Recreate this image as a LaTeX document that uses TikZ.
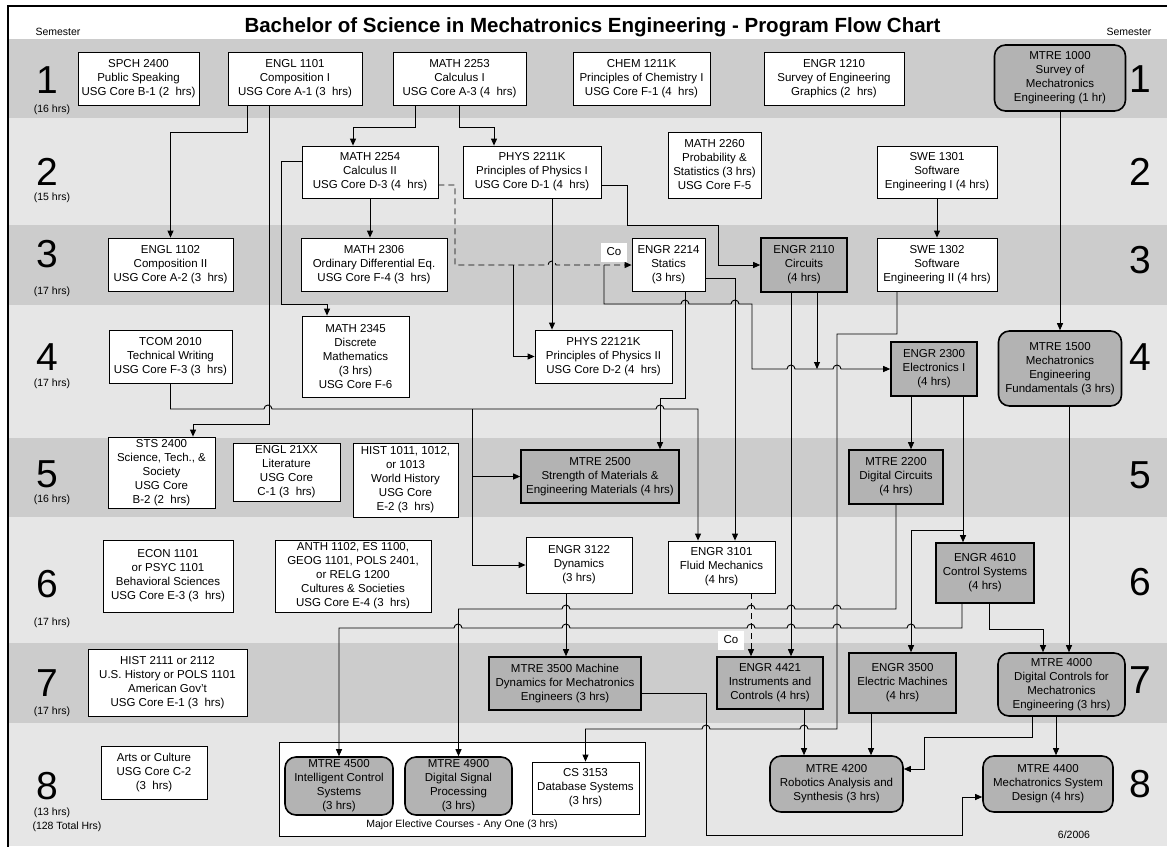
\documentclass[tikz,border=0pt]{standalone}
\usepackage{fontspec}
\setmainfont{Liberation Sans}
\usepackage{tikz}
\usetikzlibrary{arrows.meta}
\definecolor{banddark}{HTML}{CCCCCC}
\definecolor{bandlight}{HTML}{E6E6E6}
\definecolor{boxgray}{HTML}{B3B3B3}

\begin{document}
\begin{tikzpicture}[x=1pt,y=-1pt,
    course/.style={draw,fill=white,line width=0.8pt,align=center,inner sep=1pt,font=\fontsize{11.5}{14}\selectfont},
    core/.style={course,fill=boxgray,line width=1.6pt},
    major/.style={core,rounded corners=11pt},
    link/.style={-{Triangle[length=7pt,width=6pt]},line width=0.9pt,black},
    colink/.style={link,dash pattern=on 6pt off 4pt},
    colabel/.style={fill=white,minimum width=26pt,minimum height=19pt,inner sep=0pt,font=\fontsize{11.5}{14}\selectfont},
    semnum/.style={anchor=base,font=\fontsize{39}{39}\selectfont},
    semhrs/.style={font=\fontsize{10.5}{12}\selectfont}]

    \useasboundingbox (0,0) rectangle (1167,846);

    \fill[banddark]  (8,39)  rectangle (1167,118);
    \fill[bandlight] (8,118) rectangle (1167,225);
    \fill[banddark]  (8,225) rectangle (1167,305);
    \fill[bandlight] (8,305) rectangle (1167,438);
    \fill[banddark]  (8,438) rectangle (1167,517);
    \fill[bandlight] (8,517) rectangle (1167,643);
    \fill[banddark]  (8,643) rectangle (1167,723);
    \fill[bandlight] (8,723) rectangle (1167,846);
    \draw[line width=1.5pt] (8,850) -- (8,6) -- (1170,6);

    \node[anchor=base,font=\bfseries\fontsize{20.5}{24}\selectfont] (title) at (592.5,32) {Bachelor of Science in Mechatronics Engineering - Program Flow Chart};
    \node[semhrs] (seml) at (58,32)   {Semester};
    \node[semhrs] (semr) at (1129,32) {Semester};

    % semester numbers
    \node[semnum] (l1) at (47,93)  {1};   \node[semhrs] (h1) at (52,110) {(16 hrs)};
    \node[semnum] (l2) at (47,185) {2};   \node[semhrs] (h2) at (52,198) {(15 hrs)};
    \node[semnum] (l3) at (47,267) {3};   \node[semhrs] (h3) at (52,292) {(17 hrs)};
    \node[semnum] (l4) at (47,370) {4};   \node[semhrs] (h4) at (52,384) {(17 hrs)};
    \node[semnum] (l5) at (47,487) {5};   \node[semhrs] (h5) at (52,500) {(16 hrs)};
    \node[semnum] (l6) at (47,597) {6};   \node[semhrs] (h6) at (52,623) {(17 hrs)};
    \node[semnum] (l7) at (47,696) {7};   \node[semhrs] (h7) at (52,712) {(17 hrs)};
    \node[semnum] (l8) at (47,799) {8};   \node[semhrs] (h8) at (52,813) {(13 hrs)};
    \node[semhrs] (total) at (67,827) {(128 Total Hrs)};
    \node[semnum] (r1) at (1140,92)  {1};
    \node[semnum] (r2) at (1140,185) {2};
    \node[semnum] (r3) at (1140,273) {3};
    \node[semnum] (r4) at (1140,370) {4};
    \node[semnum] (r5) at (1140,488) {5};
    \node[semnum] (r6) at (1140,595) {6};
    \node[semnum] (r7) at (1140,693) {7};
    \node[semnum] (r8) at (1140,797) {8};
    \node[semhrs] (date) at (1074,835) {6/2006};

    % semester 1
    \node[course,minimum width=121pt,minimum height=53pt] (spch) at (138.5,78.5) {SPCH 2400\\Public Speaking\\USG Core B-1 (2~ hrs)};
    \node[course,minimum width=134pt,minimum height=53pt] (engla) at (295,78.5) {ENGL 1101\\Composition I\\USG Core A-1 (3~ hrs)};
    \node[course,minimum width=133pt,minimum height=53pt] (matha) at (459.5,78.5) {MATH 2253\\Calculus I\\USG Core A-3 (4~ hrs)};
    \node[course,minimum width=137pt,minimum height=53pt] (chem) at (641.5,78.5) {CHEM 1211K\\Principles of Chemistry I\\USG Core F-1 (4~ hrs)};
    \node[course,minimum width=140pt,minimum height=53pt] (graph) at (834,78.5) {ENGR 1210\\Survey of Engineering\\Graphics (2~ hrs)};
    \node[major,minimum width=131pt,minimum height=66pt] (mtrea) at (1060,78) {MTRE 1000\\Survey of\\Mechatronics\\Engineering (1 hr)};

    % semester 2
    \node[course,minimum width=136pt,minimum height=52pt] (mathb) at (370,172) {MATH 2254\\Calculus II\\USG Core D-3 (4~ hrs)};
    \node[course,minimum width=138pt,minimum height=52pt] (physa) at (532,172) {PHYS 2211K\\Principles of Physics I\\USG Core D-1 (4~ hrs)};
    \node[course,minimum width=93pt,minimum height=66pt] (prob) at (714.5,165) {MATH 2260\\Probability \&\\Statistics (3 hrs)\\USG Core F-5};
    \node[course,minimum width=120pt,minimum height=52pt] (swea) at (937,172) {SWE 1301\\Software\\Engineering I (4 hrs)};

    % semester 3
    \node[course,minimum width=125pt,minimum height=53pt] (englb) at (170.5,264.5) {ENGL 1102\\Composition II\\USG Core A-2 (3~ hrs)};
    \node[course,minimum width=146pt,minimum height=53pt] (mathc) at (374,264.5) {MATH 2306\\Ordinary Differential Eq.\\USG Core F-4 (3~ hrs)};
    \node[course,minimum width=73pt,minimum height=53pt] (statics) at (668.5,265) {ENGR 2214\\Statics\\(3 hrs)};
    \node[core,minimum width=86pt,minimum height=54pt] (circuits) at (804,265) {ENGR 2110\\Circuits\\(4 hrs)};
    \node[course,minimum width=120pt,minimum height=53pt] (sweb) at (937,264.5) {SWE 1302\\Software\\Engineering II (4 hrs)};

    % semester 4
    \node[course,minimum width=123pt,minimum height=53pt] (tcom) at (170.5,356.5) {TCOM 2010\\Technical Writing\\USG Core F-3 (3~ hrs)};
    \node[course,minimum width=107pt,minimum height=81pt] (mathd) at (355.5,356.5) {MATH 2345\\Discrete\\Mathematics\\(3 hrs)\\USG Core F-6};
    \node[course,minimum width=137pt,minimum height=53pt] (physb) at (603.5,356.5) {PHYS 22121K\\Principles of Physics II\\USG Core D-2 (4~ hrs)};
    \node[core,minimum width=86pt,minimum height=54pt] (elec) at (934,369) {ENGR 2300\\Electronics I\\(4 hrs)};
    \node[major,minimum width=123pt,minimum height=75pt] (mtreb) at (1060,368.5) {MTRE 1500\\Mechatronics\\Engineering\\Fundamentals (3 hrs)};

    % semester 5
    \node[course,minimum width=107pt,minimum height=71pt] (sts) at (161.5,472.5) {STS 2400\\Science, Tech., \&\\Society\\USG Core\\B-2 (2~ hrs)};
    \node[course,minimum width=107pt,minimum height=58pt] (englc) at (286.5,472) {ENGL 21XX\\Literature\\USG Core\\C-1 (3~ hrs)};
    \node[course,minimum width=105pt,minimum height=74pt] (histw) at (405.5,480) {HIST 1011, 1012,\\or 1013\\World History\\USG Core\\E-2 (3~ hrs)};
    \node[core,minimum width=158pt,minimum height=53pt] (strength) at (600,476.5) {MTRE 2500\\Strength of Materials \&\\Engineering Materials (4 hrs)};
    \node[core,minimum width=94pt,minimum height=54pt] (digital) at (896,477) {MTRE 2200\\Digital Circuits\\(4 hrs)};

    % semester 6
    \node[course,minimum width=130pt,minimum height=72pt] (econ) at (168,576) {ECON 1101\\or PSYC 1101\\Behavioral Sciences\\USG Core E-3 (3~ hrs)};
    \node[course,minimum width=156pt,minimum height=72pt] (anth) at (353,576) {ANTH 1102, ES 1100,\\GEOG 1101, POLS 2401,\\or RELG 1200\\Cultures \& Societies\\USG Core E-4 (3~ hrs)};
    \node[course,minimum width=106pt,minimum height=56pt] (dynamics) at (579,565) {ENGR 3122\\Dynamics\\(3 hrs)};
    \node[course,minimum width=107pt,minimum height=52pt] (fluid) at (721.5,567) {ENGR 3101\\Fluid Mechanics\\(4 hrs)};
    \node[core,minimum width=98pt,minimum height=60pt] (control) at (985,573) {ENGR 4610\\Control Systems\\(4 hrs)};

    % semester 7
    \node[course,minimum width=159pt,minimum height=67pt] (histu) at (167.5,682.5) {HIST 2111 or 2112\\U.S. History or POLS 1101\\American Gov't\\USG Core E-1 (3~ hrs)};
    \node[core,minimum width=152pt,minimum height=53pt] (machine) at (565,683.5) {MTRE 3500 Machine\\Dynamics for Mechatronics\\Engineers (3 hrs)};
    \node[core,minimum width=106pt,minimum height=52pt] (instr) at (770,683) {ENGR 4421\\Instruments and\\Controls (4 hrs)};
    \node[core,minimum width=107pt,minimum height=60pt] (emach) at (902.5,683) {ENGR 3500\\Electric Machines\\(4 hrs)};
    \node[major,minimum width=127pt,minimum height=63pt] (dctrl) at (1061.5,684.5) {MTRE 4000\\Digital Controls for\\Mechatronics\\Engineering (3 hrs)};

    % semester 8
    \node[course,minimum width=106pt,minimum height=53pt] (arts) at (154,772.5) {Arts or Culture\\USG Core C-2\\(3~ hrs)};
    \node[draw,fill=white,line width=0.8pt,minimum width=366pt,minimum height=94pt] (elect) at (462,789) {};
    \node[semhrs] (electlbl) at (462,825) {Major Elective Courses - Any One (3 hrs)};
    \node[major,minimum width=108pt,minimum height=58pt] (intel) at (339,786) {MTRE 4500\\Intelligent Control\\Systems\\(3 hrs)};
    \node[major,minimum width=107pt,minimum height=58pt] (dsp) at (458.5,786) {MTRE 4900\\Digital Signal\\Processing\\(3 hrs)};
    \node[course,minimum width=107pt,minimum height=52pt] (dbase) at (585.5,788) {CS 3153\\Database Systems\\(3 hrs)};
    \node[major,minimum width=133pt,minimum height=56pt] (robot) at (836.5,784) {MTRE 4200\\Robotics Analysis and\\Synthesis (3 hrs)};
    \node[major,minimum width=130pt,minimum height=56pt] (design) at (1048,784) {MTRE 4400\\Mechatronics System\\Design (4 hrs)};

    \coordinate (jmath)  at (513,265);
    \coordinate (jmathb) at (604,265);
    \coordinate (jtcom)  at (472,409);
    \coordinate (jelec)  at (817,369);
    \coordinate (jctrl)  at (963,530);

    % prerequisites
    \draw[link] ([xshift=-48pt]engla.south) -- ++(0,27) -| (englb.north);
    \draw[link] ([xshift=-26pt]engla.south) -- (269,424) -| ([xshift=31.5pt]sts.north);
    \draw[link] ([xshift=-44.5pt]matha.south) -- ++(0,22) -| ([xshift=-17pt]mathb.north);
    \draw[link] (matha.south) -- ++(0,22) -| ([xshift=-38pt]physa.north);
    \draw[link] (mathb.south) -- (mathb.south |- mathc.north);
    \draw[link] ([yshift=11pt]mathb.west) -| (281,304) -| ([xshift=-28.5pt]mathd.north);
    \draw[colink] ([yshift=-13pt]mathb.east) -| (455,265) -- (548,265) arc[start angle=180,end angle=0,radius=4pt] -- (statics.west);
    \draw[link] (jmath) |- (physb.west);
    \draw[link] (jmathb) -- (604,304) -- (681,304) arc[start angle=180,end angle=0,radius=4pt]
        -- (731,304) arc[start angle=180,end angle=0,radius=4pt] -- (752,304) -- (752,369)
        -- (787,369) arc[start angle=180,end angle=0,radius=4pt]
        -- (833,369) arc[start angle=180,end angle=0,radius=4pt] -- (elec.west);
    \draw[link] ([xshift=20pt]physa.south) -- ([xshift=20pt]physa.south |- physb.north);
    \draw[link] ([yshift=-13pt]physa.east) -| (627,225) -| (718,265) -- (circuits.west);
    \draw[link] ([yshift=-13pt]statics.east) -| ([xshift=13.5pt]fluid.north);
    \draw[link] ([xshift=16.5pt]statics.south) |- (660,398) -- ([xshift=60pt]strength.north);
    \draw[link] (tcom.south) |- (264,409) arc[start angle=180,end angle=0,radius=4pt]
        -- (656,409) arc[start angle=180,end angle=0,radius=4pt] -| ([xshift=-23.5pt]fluid.north);
    \draw[link] (jtcom) |- (strength.west);
    \draw[link] (jtcom) |- (dynamics.west);
    \draw[link] ([xshift=13pt]circuits.south) -- (jelec);
    \draw[link] ([xshift=-13pt]circuits.south) -- ([xshift=-13pt]circuits.south |- instr.north);
    \draw[link] (swea) -- (sweb);
    \draw[link] ([xshift=-40pt]sweb.south) |- (837,334) -- (837,729)
        -- (808,729) arc[start angle=0,end angle=180,radius=4pt]
        -- (710,729) arc[start angle=0,end angle=180,radius=4pt] -| (dbase.north);
    \draw[link] (mtrea) -- (mtreb);
    \draw[link] ([xshift=9pt]mtreb.south) -- ([xshift=9pt]mtreb.south |- dctrl.north);
    \draw[link] ([xshift=-23pt]elec.south) -- ([xshift=-23pt]elec.south |- digital.north);
    \draw[link] ([xshift=29pt]elec.south) -- ([xshift=29pt]elec.south |- control.north);
    \draw[link] (jctrl) -| ([xshift=8.5pt]emach.north);
    \draw[link] (digital.south) |- (841,609) arc[start angle=0,end angle=180,radius=4pt]
        -- (795,609) arc[start angle=0,end angle=180,radius=4pt]
        -- (755,609) arc[start angle=0,end angle=180,radius=4pt]
        -- (570,609) arc[start angle=0,end angle=180,radius=4pt] -| (dsp.north);
    \draw[link] ([xshift=-23pt]control.south) |- (915,628) arc[start angle=0,end angle=180,radius=4pt]
        -- (841,628) arc[start angle=0,end angle=180,radius=4pt]
        -- (795,628) arc[start angle=0,end angle=180,radius=4pt]
        -- (755,628) arc[start angle=0,end angle=180,radius=4pt]
        -- (570,628) arc[start angle=0,end angle=180,radius=4pt]
        -- (462,628) arc[start angle=0,end angle=180,radius=4pt] -| (intel.north);
    \draw[link] ([xshift=4pt]control.south) |- (1043,629) -- ([xshift=-18.5pt]dctrl.north);
    \draw[link] ([xshift=-13pt]dynamics.south) -- ([xshift=-13pt]dynamics.south |- machine.north);
    \draw[colink] ([xshift=29.5pt]fluid.south) -- ([xshift=29.5pt]fluid.south |- instr.north);
    \draw[link] ([yshift=-9.5pt]machine.east) -| (706,835) -| (962,797) -- ([yshift=-13pt]design.west);
    \draw[link] ([xshift=34pt]instr.south) -- ([xshift=34pt]instr.south |- robot.north);
    \draw[link] ([xshift=-31.5pt]emach.south) -- ([xshift=-31.5pt]emach.south |- robot.north);
    \draw[link] ([xshift=-29.5pt]dctrl.south) |- (924,737) |- ([yshift=15pt]robot.east);
    \draw[link] ([xshift=-5.5pt]dctrl.south) -- ([xshift=-5.5pt]dctrl.south |- design.north);

    \node[colabel] (coa) at (614,252) {Co};
    \node[colabel] (cob) at (731,640) {Co};
\end{tikzpicture}
\end{document}
